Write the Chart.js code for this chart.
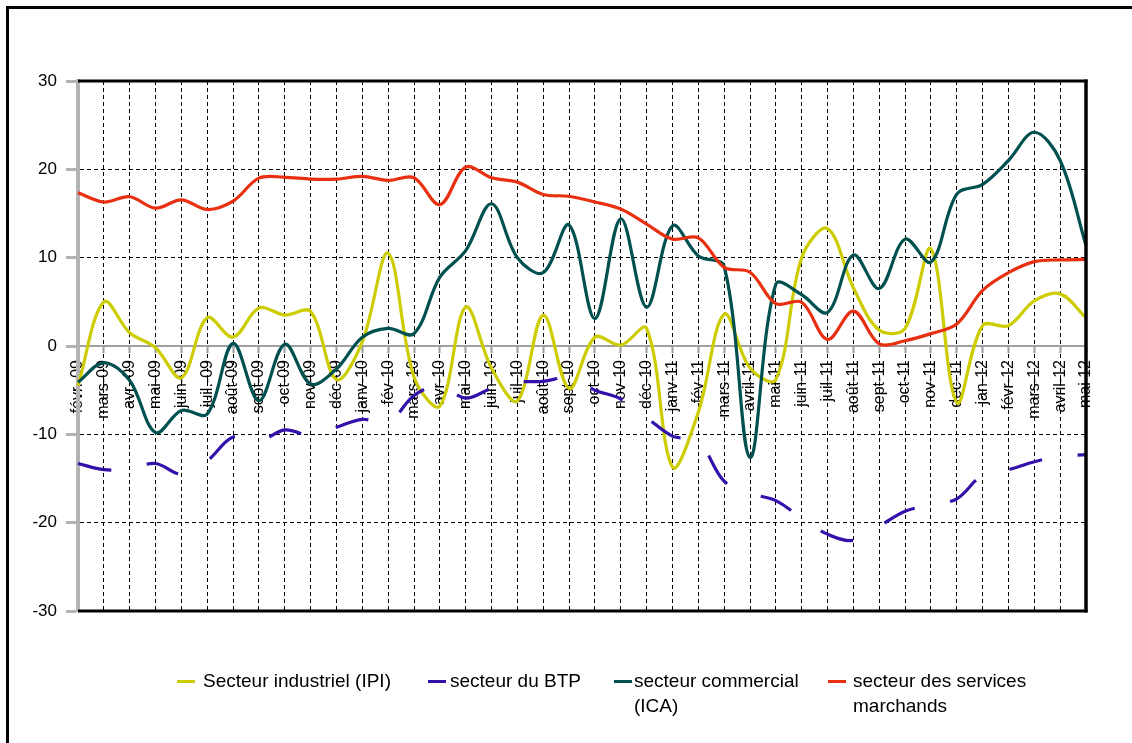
<!DOCTYPE html>
<html>
<head>
<meta charset="utf-8">
<script src="https://cdn.jsdelivr.net/npm/chart.js@4/dist/chart.umd.min.js"></script>
<style>
  body { margin: 0; background: #fff; }
  #wrap { position: relative; width: 1132px; height: 743px; overflow: hidden; font-family: "Liberation Sans", Arial, sans-serif; }
  #frame { position: absolute; left: 6px; top: 6px; width: 1200px; height: 800px; border-top: 3px solid #000; border-left: 3px solid #000; }
  canvas { position: absolute; left: 0; top: 0; }
  .leg { position: absolute; top: 668px; font-size: 19px; line-height: 25px; color: #000; white-space: nowrap; }
  .mk { position: absolute; top: 680px; height: 3px; width: 18px; }
</style>
</head>
<body>
<div id="wrap">
  <div id="frame"></div>
  <canvas id="chart" width="1132" height="743"></canvas>
  <div class="mk" style="left:177px;background:#cccc00"></div>
  <div class="leg" style="left:203px">Secteur industriel (IPI)</div>
  <div class="mk" style="left:428px;background:#3311aa"></div>
  <div class="leg" style="left:450px">secteur du BTP</div>
  <div class="mk" style="left:614px;background:#005050"></div>
  <div class="leg" style="left:634px">secteur commercial<br>(ICA)</div>
  <div class="mk" style="left:828px;background:#e83010"></div>
  <div class="leg" style="left:853px">secteur des services<br>marchands</div>
</div>
<script>
// mois (axe des x)
const mois = ['févr.-09', 'mars-09', 'avr.-09', 'mai-09', 'juin-09', 'juil.-09', 'août-09', 'sept-09', 'oct-09', 'nov-09', 'déc-09',
  'janv-10', 'fév-10', 'mars-10', 'avr-10', 'mai-10', 'juin-10', 'juil-10', 'août-10', 'sept-10', 'oct-10', 'nov-10', 'déc-10',
  'janv-11', 'fév-11', 'mars-11', 'avril-11', 'mai-11', 'juin-11', 'juil-11', 'août-11', 'sept-11', 'oct-11', 'nov-11', 'dec-11',
  'jan-12', 'févr-12', 'mars-12', 'avril-12', 'mai 12'];

// valeurs
const industriel = [-4.5, 5.0, 1.5, -0.2, -3.6, 3.2, 1.0, 4.3, 3.5, 3.9, -3.8,
  0.5, 10.5, -3.5, -6.8, 4.4, -2.5, -6.2, 3.5, -4.8, 1.0, 0.1, 2.0,
  -13.7, -7.5, 3.6, -2.5, -3.8, 10.0, 13.3, 6.6, 1.8, 2.0, 11.0, -6.4,
  2.3, 2.3, 5.1, 5.9, 3.2];
const btp = [-13.3, -14.0, -13.9, -13.3, -14.5, -13.0, -10.3, -10.8, -9.5, -10.1, -9.2,
  -8.3, -8.7, -5.6, -4.5, -5.9, -4.8, -4.1, -4.0, -3.6, -5.0, -6.0, -8.1,
  -10.2, -10.8, -15.3, -16.7, -17.5, -19.5, -21.3, -22.0, -20.4, -18.7, -18.0, -17.3,
  -14.6, -14.0, -13.1, -12.5, -12.3];
const commercial = [-4.1, -1.9, -3.9, -9.8, -7.3, -7.7, 0.3, -6.2, 0.2, -4.3, -2.6,
  1.0, 2.0, 1.4, 7.8, 10.8, 16.1, 10.0, 8.3, 13.7, 3.1, 14.4, 4.4,
  13.6, 10.2, 9.0, -12.6, 7.0, 5.8, 3.8, 10.3, 6.5, 12.1, 9.5, 17.2,
  18.3, 21.0, 24.2, 21.0, 11.4];
const services = [17.35, 16.3, 16.9, 15.6, 16.55, 15.45, 16.4, 19.0, 19.1, 18.9, 18.9,
  19.2, 18.75, 19.05, 16.0, 20.25, 19.05, 18.55, 17.15, 16.95, 16.3, 15.5, 13.8,
  12.1, 12.25, 8.9, 8.35, 4.8, 4.95, 0.75, 3.95, 0.25, 0.6, 1.4, 2.5,
  6.3, 8.3, 9.55, 9.75, 9.8];

const yTicks = [-30, -20, -10, 0, 10, 20, 30];

// cadre noir haut / droite / bas de la zone de tracé
const cadre = {
  id: 'cadre',
  afterDraw(chart) {
    const a = chart.chartArea, c = chart.ctx;
    c.save();
    c.strokeStyle = '#000';
    c.lineWidth = 3;
    c.beginPath();
    c.moveTo(a.left, a.top); c.lineTo(a.right + 1.5, a.top);
    c.moveTo(a.left, a.bottom); c.lineTo(a.right + 1.5, a.bottom);
    c.stroke();
    c.lineWidth = 3.5;
    c.beginPath();
    c.moveTo(a.right, a.top - 1.5); c.lineTo(a.right, a.bottom + 1.5);
    c.stroke();
    c.restore();
  }
};

const ctx = document.getElementById('chart').getContext('2d');
new Chart(ctx, {
  type: 'line',
  data: {
    labels: mois,
    datasets: [
      { label: 'Secteur industriel (IPI)', data: industriel, borderColor: '#cccc00', order: 3 },
      { label: 'secteur du BTP', data: btp, borderColor: '#3311aa', borderDash: [34, 36], order: 2 },
      { label: 'secteur commercial (ICA)', data: commercial, borderColor: '#005050', order: 1 },
      { label: 'secteur des services marchands', data: services, borderColor: '#e83010', order: 0 }
    ]
  },
  options: {
    responsive: false,
    animation: false,
    devicePixelRatio: 1,
    layout: { padding: { left: 18, top: 81, right: 46, bottom: 132 } },
    elements: {
      line: { borderWidth: 3.2, tension: 0.35, fill: false, borderCapStyle: 'butt' },
      point: { radius: 0 }
    },
    plugins: { legend: { display: false }, tooltip: { enabled: false } },
    scales: {
      x: {
        position: { y: 0 },
        grid: { color: '#000', lineWidth: 1, tickColor: '#999', tickLength: 6, tickWidth: 2 },
        border: { color: '#a0a0a0', width: 2, dash: [4, 3] },
        ticks: {
          autoSkip: false, maxRotation: 90, minRotation: 90, padding: 8,
          color: '#000', font: { family: 'Liberation Sans', size: 16 }
        }
      },
      y: {
        min: -30, max: 30,
        afterBuildTicks: s => { s.ticks = yTicks.map(v => ({ value: v })); },
        afterFit: s => { s.width = 60; },
        grid: {
          color: c => c.tick && c.tick.value === 0 ? '#a0a0a0' : '#000',
          lineWidth: 1, tickColor: '#b3b3b3', tickLength: 12, tickWidth: 3
        },
        border: { color: '#b3b3b3', width: 4, dash: [4, 3] },
        ticks: { padding: 9, color: '#000', font: { family: 'Liberation Sans', size: 17 } }
      }
    }
  },
  plugins: [cadre]
});
</script>
</body>
</html>
